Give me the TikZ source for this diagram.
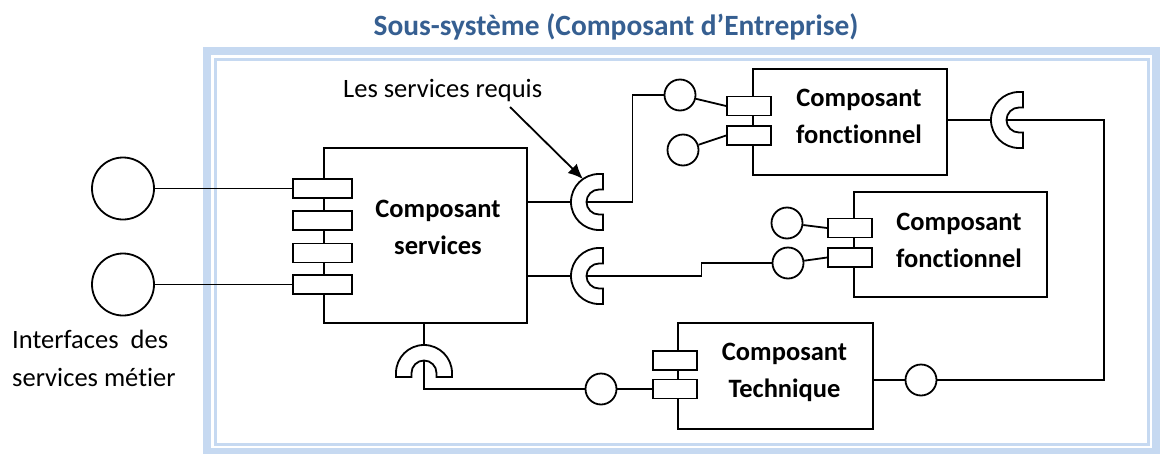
\documentclass[tikz,border=0pt]{standalone}
\usepackage{fontspec}
\setmainfont{Carlito}[Ligatures={NoCommon}]
\usetikzlibrary{arrows.meta}

\definecolor{cadre}{HTML}{C6D9F1}
\definecolor{titre}{HTML}{365F91}

\tikzset{
  trait/.style={line width=1.8pt},
  composant/.style={draw, trait, fill=white, inner sep=0pt},
  port/.style={draw, trait, fill=white, minimum width=44pt, minimum height=19pt, inner sep=0pt},
  interface/.style={draw, trait, circle, fill=white, minimum size=31pt, inner sep=0pt},
  etiquette/.style={font=\fontsize{26.5}{37}\selectfont\bfseries, align=center, inner sep=0pt},
  texte/.style={font=\fontsize{26.5}{38}\selectfont, inner sep=0pt},
  prise/.pic={
    \draw[trait, fill=white] (4,-28) -- (0,-28) arc[start angle=-90, end angle=-270, radius=28]
      -- (4,28) -- (4,12.5) -- (0,12.5) arc[start angle=90, end angle=270, radius=12.5]
      -- (0,-12.5) -- (4,-12.5) -- cycle;
    \coordinate (-dos) at (-28,0);
    \coordinate (-creux) at (-12.5,0);
    \coordinate (-haut) at (-16,-23);
  }
}

\begin{document}
\begin{tikzpicture}[x=1pt, y=-1pt]
  \useasboundingbox (0,0) rectangle (1160,453);

  % Cadre du sous-systeme
  \draw[cadre, line width=8pt] (207,51) rectangle (1156,452);
  \draw[cadre, line width=3pt] (215,59) rectangle (1148,444);

  % Titre
  \node[anchor=base, text=titre, font=\fontsize{29.4}{34}\selectfont\bfseries, inner sep=0pt] (titre) at (616,35) {Sous-système (Composant d’Entreprise)};

  % Composants
  \node[composant, minimum width=203pt, minimum height=175pt] (cs) at (425.5,235.5) {};
  \node[composant, minimum width=194pt, minimum height=106pt] (cf1) at (850,122) {};
  \node[composant, minimum width=193pt, minimum height=105pt] (cf2) at (950.5,244.5) {};
  \node[composant, minimum width=195pt, minimum height=106pt] (ct) at (775.5,376) {};

  \node[etiquette] (cs-txt) at (438,227) {Composant\\services};
  \node[etiquette] (cf1-txt) at (859,116) {Composant\\fonctionnel};
  \node[etiquette] (cf2-txt) at (959,240) {Composant\\fonctionnel};
  \node[etiquette] (ct-txt) at (784.5,372) {Composant\\Technique};

  % Ports
  \foreach \i/\p in {1/188.5, 2/220.5, 3/253, 4/284.5}
    \node[port, minimum width=59pt] (pcs\i) at (322.5,\p) {};
  \node[port] (pf1a) at (749,106) {};
  \node[port] (pf1b) at (749,135.5) {};
  \node[port] (pf2a) at (850,228) {};
  \node[port] (pf2b) at (850,257.5) {};
  \node[port] (pt1) at (675,360.5) {};
  \node[port] (pt2) at (675,389) {};

  % Interfaces offertes
  \node[interface, minimum size=62pt] (if1) at (123,188.5) {};
  \node[interface, minimum size=62pt] (if2) at (123,284.5) {};
  \node[interface] (cf1a) at (680,95) {};
  \node[interface] (cf1b) at (683,150) {};
  \node[interface] (cf2a) at (787,223) {};
  \node[interface] (cf2b) at (788,263) {};
  \node[interface] (ct-in) at (601,389) {};
  \node[interface] (ct-out) at (921,380) {};

  % Interfaces requises
  \pic (s1) at (599,202) {prise};
  \pic (s2) at (599,276) {prise};
  \pic (s3) at (1019,120) {prise};
  \pic[rotate=-90] (s4) at (424,373) {prise};

  % Liaisons
  \draw[trait] (if1) -- (pcs1);
  \draw[trait] (if2) -- (pcs4);
  \draw[trait] (cs.east |- s1-dos) -- (s1-dos);
  \draw[trait] (cs.east |- s2-dos) -- (s2-dos);
  \draw[trait] (s4-dos |- cs.south) -- (s4-dos);
  \draw[trait] (s1-creux) -- ++(46,0) |- (cf1a);
  \draw[trait] (s2-creux) -- ++(115,0) -- ++(0,-13) -- (cf2b);
  \draw[trait] (s4-creux) |- (ct-in);
  \draw[trait] (ct-in) -- (pt2);
  \draw[trait] (cf1a) -- (pf1a.west);
  \draw[trait] (cf1b) -- (pf1b.west);
  \draw[trait] (cf2a) -- (pf2a.west);
  \draw[trait] (cf2b) -- (pf2b.west);
  \draw[trait] (cf1.east |- s3-dos) -- (s3-dos);
  \draw[trait] (s3-creux) -- ++(97.5,0) |- (ct-out);
  \draw[trait] (ct-out) -- (ct-out -| ct.east);

  % Legendes
  \node[texte, anchor=base west] (requis) at (343,97) {Les services requis};
  \coordinate (requis-fl) at (510,107);
  \draw[trait, -{Latex[length=15pt, width=13pt]}] (requis-fl) -- (s1-haut);
  \node[texte, anchor=north west, align=left] (interfaces) at (12,330) {\makebox[156pt][s]{Interfaces des}\\services métier};
\end{tikzpicture}
\end{document}
